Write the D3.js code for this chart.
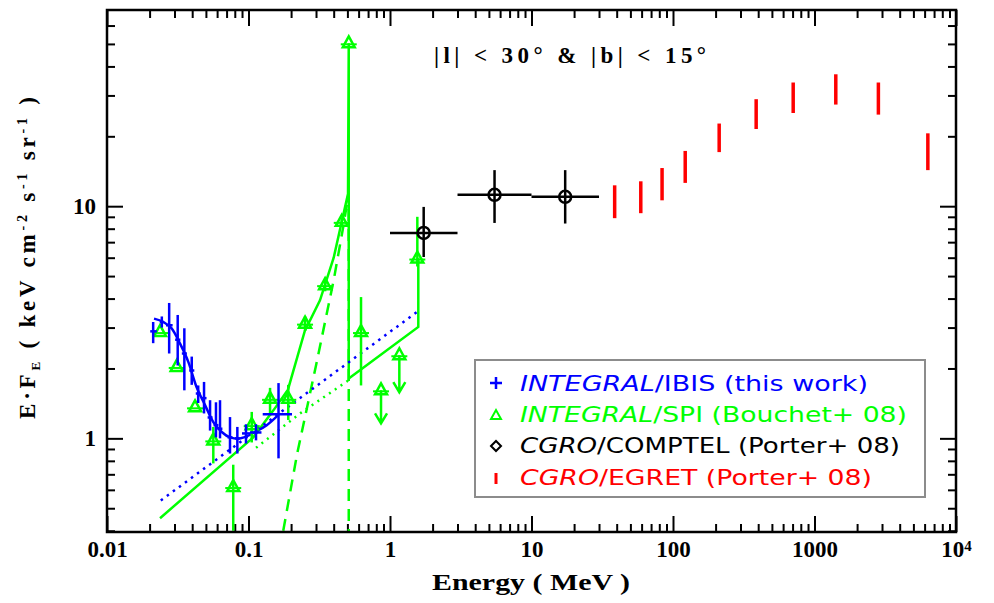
<!DOCTYPE html>
<html>
<head>
<meta charset="utf-8">
<script src="https://cdn.jsdelivr.net/npm/d3@7"></script>
<style>
  body { margin: 0; background: #fff; }
</style>
</head>
<body>
<div id="chart"></div>
<script>
// ---- data ----
// INTEGRAL/IBIS (energy in MeV, E.F_E)
const ibisE = [0.0212, 0.0244, 0.0275, 0.0316, 0.0352, 0.0397, 0.0441, 0.0485, 0.0535, 0.0589, 0.0629, 0.074, 0.0834, 0.096, 0.113, 0.163];
const ibisElo = [0.0202, 0.0236, 0.0261, 0.0303, 0.0338, 0.0381, 0.0424, 0.0466, 0.0514, 0.0566, 0.0605, 0.0711, 0.0801, 0.09, 0.1025, 0.126];
const ibisEhi = [0.0225, 0.0253, 0.0291, 0.033, 0.0367, 0.0414, 0.0459, 0.0505, 0.0557, 0.0613, 0.0654, 0.077, 0.0868, 0.1025, 0.1235, 0.203];
const ibisF = [2.89, 3.17, 3.07, 2.66, 2.32, 1.96, 1.56, 1.49, 1.23, 1.14, 1.1, 1.01, 1.0, 1.05, 1.06, 1.27];
const ibisFlo = [2.57, 3.0, 2.32, 2.06, 1.61, 1.7, 1.42, 1.28, 1.08, 1.01, 1.0, 0.86, 0.86, 0.95, 0.98, 0.82];
const ibisFhi = [3.17, 3.35, 3.83, 3.4, 2.98, 2.25, 1.69, 1.75, 1.46, 1.43, 1.46, 1.235, 1.12, 1.15, 1.15, 1.73];

// IBIS model curve and power-law trend
const ibisModelE = [0.0215, 0.025, 0.0287, 0.0328, 0.0376, 0.043, 0.0493, 0.0564, 0.0647, 0.074, 0.0846, 0.0971, 0.111, 0.1345, 0.162];
const ibisModelF = [3.28, 3.17, 2.97, 2.56, 2.13, 1.66, 1.39, 1.175, 1.065, 1.01, 0.997, 1.02, 1.065, 1.14, 1.26];
const ibisTrendE = [0.024, 1.55];
const ibisTrendF = [0.54, 3.5];

// INTEGRAL/SPI
const spiE = [0.0237, 0.0311, 0.0419, 0.0564, 0.078, 0.1054, 0.142, 0.191, 0.251, 0.348, 0.456, 0.511, 0.624, 1.56];
const spiF = [2.87, 2.03, 1.36, 0.98, 0.617, 1.14, 1.48, 1.48, 3.12, 4.57, 8.56, 50.3, 2.87, 5.95];
const spiFlo = [2.87, 2.03, 1.36, 0.78, 0.4, 0.96, 1.25, 1.2, 2.9, 4.3, 8.2, 50.3, 1.69, 5.5];
const spiFhi = [2.87, 2.03, 1.36, 1.12, 0.77, 1.3, 1.65, 1.7, 3.35, 4.85, 8.9, 50.3, 4.06, 9.0];
// SPI upper limits
const spiUlE = [0.864, 1.164];
const spiUlF = [1.61, 2.28];
const spiUlTo = [1.16, 1.58];

// SPI model: total (solid), continuum (dotted), positronium (dashed)
const spiTotalE = [0.0237, 0.108, 0.15, 0.19, 0.25, 0.32, 0.4, 0.505, 0.511, 0.511, 1.585, 1.585];
const spiTotalF = [0.453, 1.01, 1.32, 1.62, 2.9, 3.93, 6.0, 11.3, 50.3, 1.81, 3.02, 5.97];
const spiContE = [0.113, 0.231, 0.511];
const spiContF = [0.91, 1.28, 1.78];
const spiPosE = [0.176, 0.22, 0.3, 0.4, 0.468, 0.511, 0.511];
const spiPosF = [0.4, 0.85, 2.06, 4.8, 8.2, 11.4, 0.39];

// CGRO/COMPTEL
const comptelE = [1.73, 5.48, 17.3];
const comptelElo = [1, 3, 10];
const comptelEhi = [3, 10, 30];
const comptelF = [7.67, 11.2, 10.97];
const comptelFlo = [6.04, 8.47, 8.42];
const comptelFhi = [9.93, 14.3, 14.3];

// CGRO/EGRET
const egretE = [38.7, 59.2, 83.7, 122, 212, 387, 707, 1414, 2828, 6325];
const egretFlo = [8.88, 9.33, 10.6, 12.6, 17.1, 21.5, 25.2, 27.4, 24.8, 14.3];
const egretFhi = [12.3, 12.8, 14.6, 17.3, 22.7, 28.9, 34.1, 37.0, 34.1, 20.6];

// axis ticks
const xMajor = [0.01, 0.1, 1, 10, 100, 1000, 10000];
const xLabels = ["0.01", "0.1", "1", "10", "100", "1000", "10"];
const yMajor = [1, 10];
const yLabels = ["1", "10"];

const BLUE = "#0000ff", GREEN = "#00ff00", RED = "#ff0000";

// ---- svg + scales ----
const svg = d3.select("#chart").append("svg")
  .attr("width", 994).attr("height", 603)
  .style("font-family", "'Liberation Serif', serif");

const x = d3.scaleLog().domain([0.01, 1e4]).range([107, 956]);
const y = d3.scaleLog().domain([0.395, 70]).range([532, 10]);

const minorOf = (majors, lo, hi) => {
  const out = [];
  majors.concat([majors[0] / 10]).forEach((m) => {
    for (let k = 2; k <= 9; k++) { const v = m * k; if (v > lo && v < hi) out.push(v); }
  });
  return out;
};
const xMinor = minorOf(xMajor, 0.01, 1e4);
const yMinor = minorOf([0.1, 1, 10], 0.395, 70);

svg.append("defs").append("clipPath").attr("id", "plotclip")
  .append("rect").attr("x", 107).attr("y", 10).attr("width", 849).attr("height", 522);

// ---- axes (ticks on all four sides, pointing in) ----
function addAxis(axisFn, scale, transform, values, size, fmt, pad) {
  const g = svg.append("g").attr("transform", transform)
    .call(axisFn(scale).tickValues(values).tickSize(-size).tickPadding(pad || 0).tickFormat(fmt || (() => "")));
  g.select(".domain").remove();
  g.selectAll(".tick line").attr("stroke", "#000").attr("stroke-width", 2);
  return g;
}
const xb = addAxis(d3.axisBottom, x, "translate(0,532)", xMajor, 16, (d, i) => xLabels[i], 9);
addAxis(d3.axisBottom, x, "translate(0,532)", xMinor, 8);
addAxis(d3.axisTop, x, "translate(0,10)", xMajor, 16);
addAxis(d3.axisTop, x, "translate(0,10)", xMinor, 8);
const yl = addAxis(d3.axisLeft, y, "translate(107,0)", yMajor, 16, (d, i) => yLabels[i], 11);
addAxis(d3.axisLeft, y, "translate(107,0)", yMinor, 8);
addAxis(d3.axisRight, y, "translate(956,0)", yMajor, 16);
addAxis(d3.axisRight, y, "translate(956,0)", yMinor, 8);

[xb, yl].forEach((g) => g.selectAll("text")
  .attr("fill", "#000").style("font-family", "'Liberation Serif', serif")
  .style("font-size", "23px").style("font-weight", "bold"));
// 10^4 exponent
xb.selectAll(".tick text").filter((d) => d === 10000)
  .append("tspan").attr("dy", "-0.45em").style("font-size", "15px").text("4");

// ---- data layer ----
const plot = svg.append("g").attr("clip-path", "url(#plotclip)");
const line = d3.line().x((d) => x(d[0])).y((d) => y(d[1]));
const zip = (a, b) => a.map((v, i) => [v, b[i]]);

// SPI model lines
plot.append("path").attr("d", line(zip(spiContE, spiContF)))
  .attr("fill", "none").attr("stroke", GREEN).attr("stroke-width", 2.5).attr("stroke-dasharray", "2,5");
plot.append("path").attr("d", line(zip(spiPosE, spiPosF)))
  .attr("fill", "none").attr("stroke", GREEN).attr("stroke-width", 2.5).attr("stroke-dasharray", "12,8");
plot.append("path").attr("d", line(zip(spiTotalE, spiTotalF)))
  .attr("fill", "none").attr("stroke", GREEN).attr("stroke-width", 2.5);

// IBIS model lines
plot.append("path").attr("d", line(zip(ibisTrendE, ibisTrendF)))
  .attr("fill", "none").attr("stroke", BLUE).attr("stroke-width", 2.5).attr("stroke-dasharray", "2.5,5");
plot.append("path").attr("d", d3.line().curve(d3.curveMonotoneX).x((d) => x(d[0])).y((d) => y(d[1]))(zip(ibisModelE, ibisModelF)))
  .attr("fill", "none").attr("stroke", BLUE).attr("stroke-width", 2.5);

// SPI triangles
const tri = (cx, cy) => `M${cx - 6},${cy + 4}L${cx},${cy - 7}L${cx + 6},${cy + 4}Z`;
spiE.forEach((e, i) => {
  const cx = x(e), cy = y(spiF[i]);
  plot.append("line").attr("x1", cx).attr("x2", cx).attr("y1", y(spiFlo[i])).attr("y2", y(spiFhi[i]))
    .attr("stroke", GREEN).attr("stroke-width", 2.5);
  plot.append("path").attr("d", tri(cx, cy)).attr("fill", "none").attr("stroke", GREEN).attr("stroke-width", 2.5);
  plot.append("line").attr("x1", cx - 8).attr("x2", cx + 8).attr("y1", cy + 1).attr("y2", cy + 1)
    .attr("stroke", GREEN).attr("stroke-width", 2);
});
spiUlE.forEach((e, i) => {
  const cx = x(e), cy = y(spiUlF[i]), ty = y(spiUlTo[i]);
  plot.append("path").attr("d", tri(cx, cy)).attr("fill", "none").attr("stroke", GREEN).attr("stroke-width", 2.5);
  plot.append("line").attr("x1", cx - 8).attr("x2", cx + 8).attr("y1", cy + 1).attr("y2", cy + 1)
    .attr("stroke", GREEN).attr("stroke-width", 2);
  plot.append("path").attr("d", `M${cx},${cy}L${cx},${ty}M${cx - 6},${ty - 10}L${cx},${ty}L${cx + 6},${ty - 10}`)
    .attr("fill", "none").attr("stroke", GREEN).attr("stroke-width", 2.5);
});

// IBIS crosses
ibisE.forEach((e, i) => {
  const cx = x(e), cy = y(ibisF[i]);
  plot.append("line").attr("x1", cx).attr("x2", cx).attr("y1", y(ibisFlo[i])).attr("y2", y(ibisFhi[i]))
    .attr("stroke", BLUE).attr("stroke-width", 2.5);
  plot.append("line").attr("x1", x(ibisElo[i])).attr("x2", x(ibisEhi[i])).attr("y1", cy).attr("y2", cy)
    .attr("stroke", BLUE).attr("stroke-width", 2.5);
});

// COMPTEL
comptelE.forEach((e, i) => {
  const cx = x(e), cy = y(comptelF[i]);
  plot.append("line").attr("x1", x(comptelElo[i])).attr("x2", x(comptelEhi[i])).attr("y1", cy).attr("y2", cy)
    .attr("stroke", "#000").attr("stroke-width", 2.5);
  plot.append("line").attr("x1", cx).attr("x2", cx).attr("y1", y(comptelFlo[i])).attr("y2", y(comptelFhi[i]))
    .attr("stroke", "#000").attr("stroke-width", 2.5);
  plot.append("circle").attr("cx", cx).attr("cy", cy).attr("r", 6)
    .attr("fill", "none").attr("stroke", "#000").attr("stroke-width", 2.5);
});

// EGRET
plot.selectAll(".egret").data(egretE).join("line")
  .attr("x1", (d) => x(d)).attr("x2", (d) => x(d))
  .attr("y1", (d, i) => y(egretFlo[i])).attr("y2", (d, i) => y(egretFhi[i]))
  .attr("stroke", RED).attr("stroke-width", 3.5);

// frame
svg.append("rect").attr("x", 107).attr("y", 10).attr("width", 849).attr("height", 522)
  .attr("fill", "none").attr("stroke", "#000").attr("stroke-width", 2.5);

// ---- texts ----
svg.append("text").attr("x", 570).attr("y", 63).attr("text-anchor", "middle")
  .attr("textLength", 272).attr("lengthAdjust", "spacing")
  .style("font-size", "23px").style("font-weight", "bold").text("|l| < 30° & |b| < 15°");

svg.append("text").attr("x", 531).attr("y", 590).attr("text-anchor", "middle")
  .attr("textLength", 198).attr("lengthAdjust", "spacingAndGlyphs")
  .style("font-size", "23px").style("font-weight", "bold").text("Energy ( MeV )");

const ylab = svg.append("text").attr("transform", "translate(35,258) rotate(-90)")
  .attr("text-anchor", "middle").attr("textLength", 322).attr("lengthAdjust", "spacing")
  .style("font-size", "23px").style("font-weight", "bold");
ylab.append("tspan").text("E·F");
ylab.append("tspan").attr("dy", 5).style("font-size", "13px").text("E");
ylab.append("tspan").attr("dy", -5).text(" ( keV cm");
ylab.append("tspan").attr("dy", -8).style("font-size", "14px").text("-2");
ylab.append("tspan").attr("dy", 8).text(" s");
ylab.append("tspan").attr("dy", -8).style("font-size", "14px").text("-1");
ylab.append("tspan").attr("dy", 8).text(" sr");
ylab.append("tspan").attr("dy", -8).style("font-size", "14px").text("-1");
ylab.append("tspan").attr("dy", 8).text("  )");

// ---- legend ----
const legend = svg.append("g");
legend.append("rect").attr("x", 475).attr("y", 360).attr("width", 450).attr("height", 137)
  .attr("fill", "#fff").attr("stroke", "#8c8c8c").attr("stroke-width", 2);

const legendItems = [
  { it: "INTEGRAL", rest: "/IBIS (this work)", color: BLUE, len: 348, base: 391 },
  { it: "INTEGRAL", rest: "/SPI (Bouchet+ 08)", color: GREEN, len: 387, base: 422 },
  { it: "CGRO", rest: "/COMPTEL (Porter+ 08)", color: "#000", len: 380, base: 453 },
  { it: "CGRO", rest: "/EGRET (Porter+ 08)", color: RED, len: 352, base: 485 },
];
legendItems.forEach((d) => {
  const t = legend.append("text").attr("x", 520).attr("y", d.base)
    .attr("textLength", d.len).attr("lengthAdjust", "spacingAndGlyphs")
    .attr("fill", d.color).style("font-family", "'DejaVu Sans', sans-serif").style("font-size", "22px");
  t.append("tspan").style("font-style", "italic").text(d.it);
  t.append("tspan").text(d.rest);
});
const mx = 496;
legend.append("path").attr("d", `M${mx - 6},383H${mx + 6}M${mx},377V389`)
  .attr("stroke", BLUE).attr("stroke-width", 2.5);
legend.append("path").attr("d", `M${mx - 5},419L${mx},410L${mx + 5},419Z`)
  .attr("fill", "none").attr("stroke", GREEN).attr("stroke-width", 2);
legend.append("path").attr("d", `M${mx - 5},446L${mx},441L${mx + 5},446L${mx},451Z`)
  .attr("fill", "none").attr("stroke", "#000").attr("stroke-width", 2);
legend.append("line").attr("x1", mx).attr("x2", mx).attr("y1", 473).attr("y2", 484)
  .attr("stroke", RED).attr("stroke-width", 3);
</script>
</body>
</html>
